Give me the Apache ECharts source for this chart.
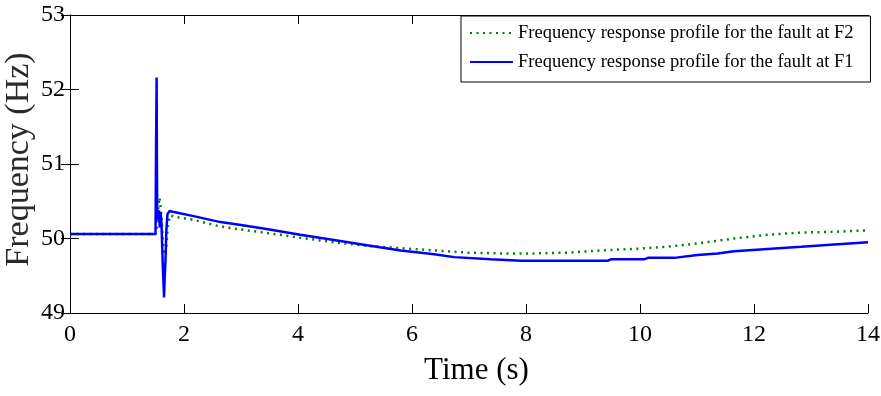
<!DOCTYPE html>
<html>
<head>
<meta charset="utf-8">
<script src="https://cdn.jsdelivr.net/npm/echarts@6/dist/echarts.min.js"></script>
<style>
html,body{margin:0;padding:0;background:#fff;}
#chart{width:881px;height:396px;}
</style>
</head>
<body>
<div id="chart"></div>
<script>
// ---- Data ----
var seriesNames = ['Frequency response profile for the fault at F2', 'Frequency response profile for the fault at F1'];

var timeF2 = [0, 1.50, 1.52, 1.55, 1.57, 1.59, 1.61, 1.63, 1.66, 1.69, 1.72, 1.76, 1.85, 2.17, 2.64, 3.0, 3.5, 4.04, 4.63, 5.21, 5.80, 6.39, 6.97, 7.56, 8.14, 8.73, 9.31, 9.90, 10.49, 11.07, 11.65, 12.24, 12.83, 13.41, 14.0];
var freqF2 = [50.06, 50.06, 50.10, 50.45, 50.55, 50.42, 50.22, 49.95, 49.78, 49.90, 50.20, 50.31, 50.29, 50.25, 50.16, 50.12, 50.07, 50.01, 49.95, 49.90, 49.87, 49.84, 49.81, 49.80, 49.80, 49.81, 49.84, 49.86, 49.89, 49.94, 50.00, 50.05, 50.08, 50.09, 50.11];

var timeF1 = [0, 1.50, 1.505, 1.51, 1.515, 1.52, 1.525, 1.53, 1.545, 1.56, 1.575, 1.59, 1.605, 1.625, 1.64, 1.65, 1.66, 1.675, 1.69, 1.71, 1.75, 1.80, 2.17, 2.64, 3.0, 3.5, 4.04, 4.63, 5.21, 5.80, 6.39, 6.74, 7.38, 7.91, 8.5, 9.0, 9.43, 9.49, 10.07, 10.14, 10.60, 11.01, 11.36, 11.65, 12.24, 12.83, 13.41, 14.0];
var freqF1 = [50.06, 50.06, 50.60, 51.25, 51.70, 52.16, 51.00, 50.40, 50.25, 50.38, 50.15, 50.35, 50.20, 49.70, 49.40, 49.21, 49.45, 49.70, 50.10, 50.33, 50.37, 50.36, 50.30, 50.22, 50.18, 50.12, 50.05, 49.98, 49.91, 49.84, 49.79, 49.75, 49.72, 49.70, 49.70, 49.70, 49.70, 49.72, 49.72, 49.74, 49.74, 49.78, 49.80, 49.83, 49.86, 49.89, 49.92, 49.95];

var xTicks = {min: 0, max: 14, step: 2};
var yTicks = {min: 49, max: 53, step: 1};

function pairs(xs, ys) {
  var out = [];
  for (var i = 0; i < xs.length; i++) out.push([xs[i], ys[i]]);
  return out;
}

var FONT = 'Liberation Serif';
var chart = echarts.init(document.getElementById('chart'), null, {renderer: 'canvas'});

var tickStyle = {show: true, inside: true, length: 9, lineStyle: {color: '#000', width: 1}};
var lineAxis = {show: true, lineStyle: {color: '#000', width: 1}};

var option = {
  backgroundColor: '#fff',
  animation: false,
  grid: {left: 70, right: 13, top: 15, bottom: 83, containLabel: false, outerBoundsMode: 'none'},
  legend: {
    data: seriesNames,
    orient: 'vertical',
    left: 461,
    top: 16,
    padding: [7, 17, 10, 8],
    itemWidth: 43,
    itemHeight: 20,
    itemGap: 9,
    itemTextGap: 5,
    backgroundColor: '#fff',
    borderColor: '#000',
    borderWidth: 1,
    borderRadius: 0,
    itemStyle: {opacity: 0},
    textStyle: {fontFamily: FONT, fontSize: 18.5, color: '#000', lineHeight: 20}
  },
  xAxis: [{
    type: 'value',
    position: 'bottom',
    min: xTicks.min, max: xTicks.max, interval: xTicks.step,
    name: 'Time (s)',
    nameLocation: 'middle',
    nameGap: 42,
    nameMoveOverlap: false,
    nameTextStyle: {fontFamily: FONT, fontSize: 31, color: '#000', padding: [0, 0, 0, 15]},
    axisLine: lineAxis,
    axisTick: tickStyle,
    axisLabel: {fontFamily: FONT, fontSize: 24, color: '#000', margin: 10},
    splitLine: {show: false}
  }, {
    type: 'value',
    position: 'top',
    min: xTicks.min, max: xTicks.max, interval: xTicks.step,
    axisLine: lineAxis,
    axisTick: tickStyle,
    axisLabel: {show: false},
    splitLine: {show: false}
  }],
  yAxis: [{
    type: 'value',
    position: 'left',
    min: yTicks.min, max: yTicks.max, interval: yTicks.step,
    name: 'Frequency (Hz)',
    nameLocation: 'middle',
    nameGap: 34,
    nameMoveOverlap: false,
    nameTextStyle: {fontFamily: FONT, fontSize: 34, color: '#2a2a2a', padding: [0, 0, 0, 9]},
    axisLine: lineAxis,
    axisTick: tickStyle,
    axisLabel: {fontFamily: FONT, fontSize: 24, color: '#000', margin: 5},
    splitLine: {show: false}
  }, {
    type: 'value',
    position: 'right',
    min: yTicks.min, max: yTicks.max, interval: yTicks.step,
    axisLine: lineAxis,
    axisTick: tickStyle,
    axisLabel: {show: false},
    splitLine: {show: false}
  }],
  series: [{
    name: seriesNames[0],
    type: 'line',
    xAxisIndex: 0, yAxisIndex: 0,
    data: pairs(timeF2, freqF2),
    symbol: 'none',
    smooth: false,
    lineStyle: {color: '#008000', width: 2.5, type: [2, 4.5], cap: 'butt'},
    itemStyle: {color: '#008000'},
    z: 2
  }, {
    name: seriesNames[1],
    type: 'line',
    xAxisIndex: 0, yAxisIndex: 0,
    data: pairs(timeF1, freqF1),
    symbol: 'none',
    smooth: false,
    lineStyle: {color: '#0000ff', width: 2.5},
    itemStyle: {color: '#0000ff'},
    z: 3
  }]
};
chart.setOption(option);
</script>
</body>
</html>
